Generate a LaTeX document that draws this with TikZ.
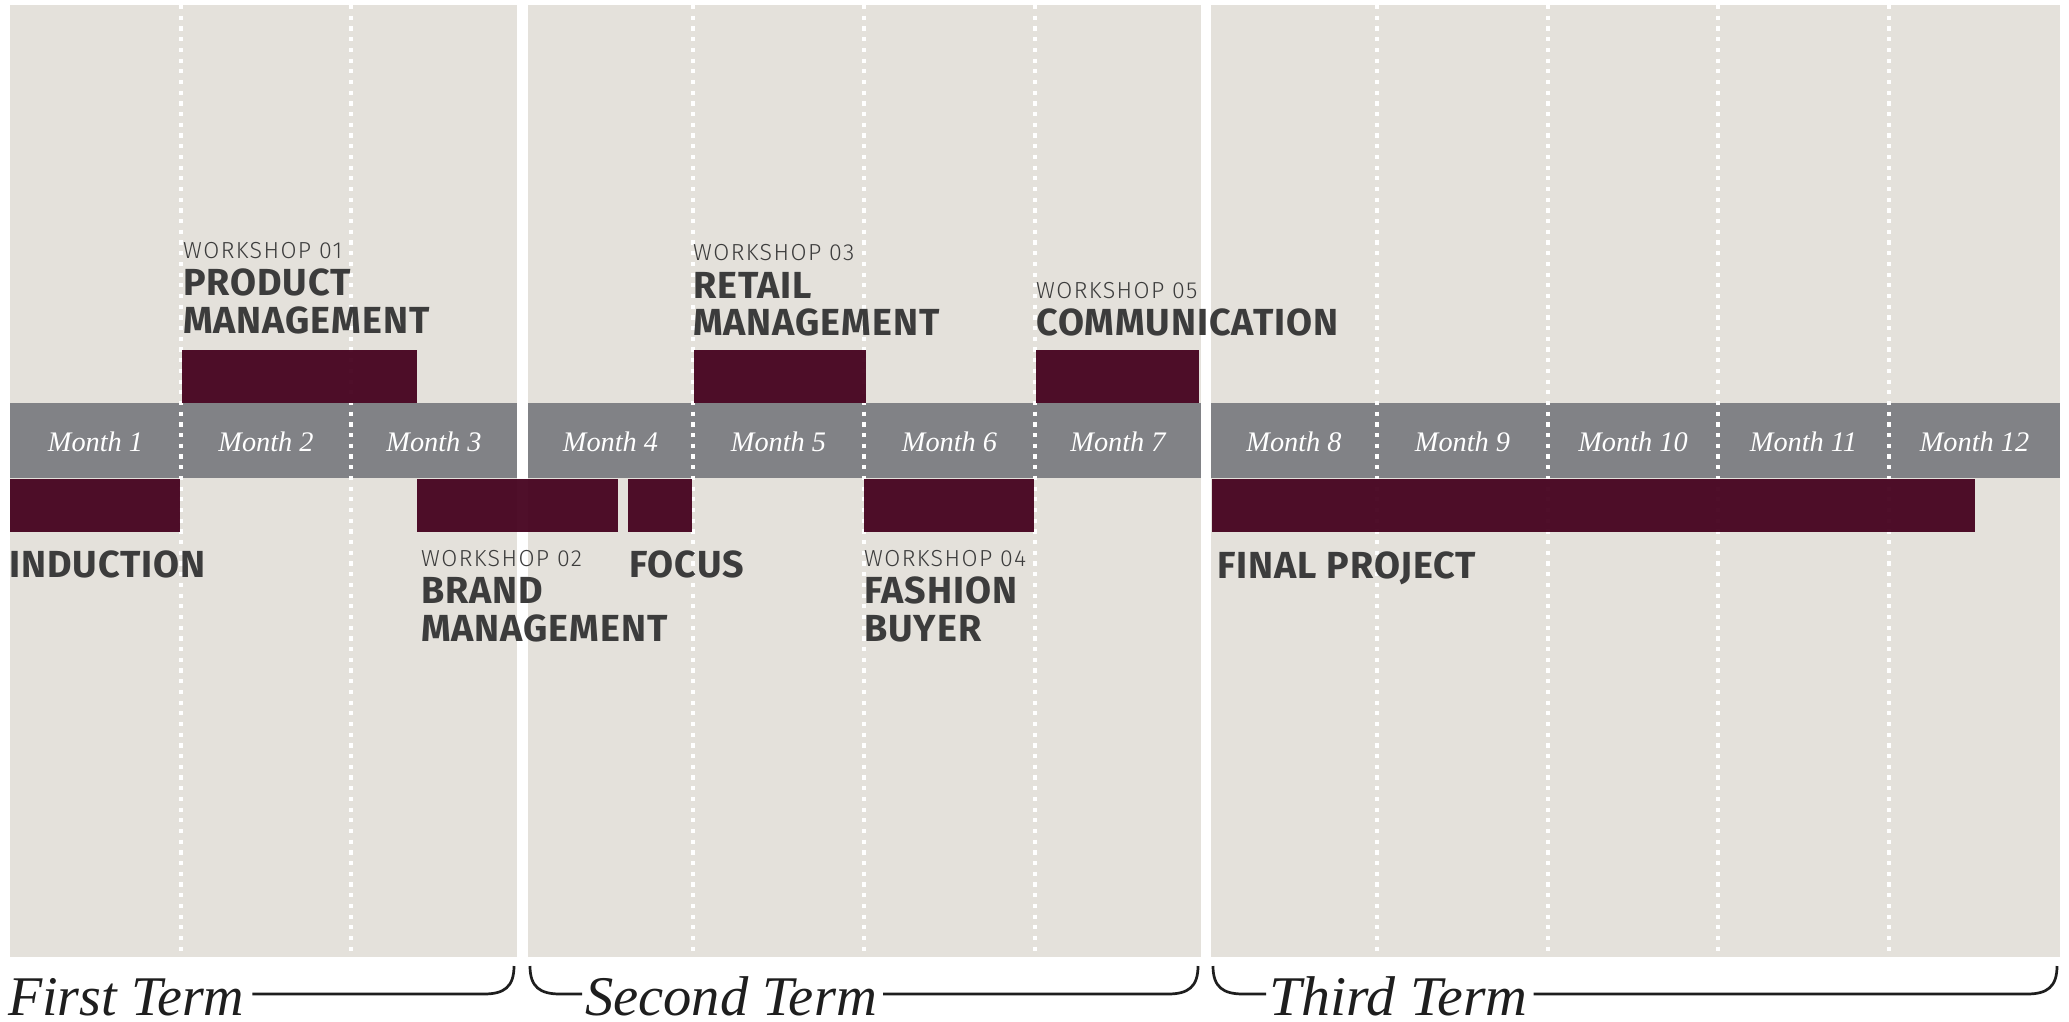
\documentclass[tikz,border=0pt]{standalone}
\usepackage{fontspec}
\usepackage{graphicx}
\newfontfamily\dinbold{Fira Sans}[UprightFont=* Bold,LetterSpace=2.5]
\newfontfamily\dinlight{Fira Sans Light}[LetterSpace=6]
\newfontfamily\serifit{Liberation Serif}
\definecolor{beige}{HTML}{E4E1DB}
\definecolor{bandgray}{HTML}{818286}
\definecolor{maroon}{HTML}{44001D}
\definecolor{txt}{HTML}{3C3C3C}
\definecolor{termink}{HTML}{1E1E1E}
\begin{document}
\begin{tikzpicture}[x=1pt,y=-1pt,
  panel/.style={fill=beige,draw=none},
  band/.style={fill=bandgray,draw=none},
  sep/.style={draw=white,line width=3.6pt,dash pattern=on 4.2pt off 6.5pt},
  bar/.style={fill=maroon,fill opacity=0.94,draw=none},
  month/.style={anchor=base,inner sep=0pt,text=white,font=\serifit\itshape\fontsize{28.3}{30}\selectfont},
  wstag/.style={anchor=base west,inner sep=0pt,text=txt,font=\dinlight\fontsize{23.2}{26}\selectfont},
  wsname/.style={anchor=base west,inner sep=0pt,text=txt,font=\dinbold\fontsize{37.7}{40}\selectfont},
  term/.style={anchor=base west,inner sep=0pt,text=termink,font=\serifit\itshape\fontsize{56}{60}\selectfont},
  brace/.style={draw=termink,line width=2.7pt}
]
\useasboundingbox (0,0) rectangle (2069,1021);
\fill[white] (0,0) rectangle (2069,1021);
% panels
\fill[panel] (10,5) rectangle (517,957);
\fill[panel] (528,5) rectangle (1201,957);
\fill[panel] (1211,5) rectangle (2060,957);
% month band
\fill[band] (10,403) rectangle (517,478);
\fill[band] (528,403) rectangle (1201,478);
\fill[band] (1211,403) rectangle (2060,478);
% month separators
\foreach \x in {181,351,693,864,1035,1377,1548,1718,1889}
  \draw[sep] (\x,5) -- (\x,957);
% month labels
\node[month] (m1) at (95.5,451) {Month 1};
\node[month] (m2) at (266,451) {Month 2};
\node[month] (m3) at (434,451) {Month 3};
\node[month] (m4) at (610.5,451) {Month 4};
\node[month] (m5) at (778.5,451) {Month 5};
\node[month] (m6) at (949.5,451) {Month 6};
\node[month] (m7) at (1118,451) {Month 7};
\node[month] (m8) at (1294,451) {Month 8};
\node[month] (m9) at (1462.5,451) {Month 9};
\node[month] (m10) at (1633,451) {Month 10};
\node[month] (m11) at (1803.5,451) {Month 11};
\node[month] (m12) at (1974.5,451) {Month 12};
% bars above
\fill[bar] (182,350) rectangle (417,403);
\fill[bar] (694,350) rectangle (866,403);
\fill[bar] (1036,350) rectangle (1199,403);
% bars below
\fill[bar] (10,479) rectangle (180,532);
\fill[bar] (417,479) rectangle (618,532);
\fill[bar] (628,479) rectangle (692,532);
\fill[bar] (864,479) rectangle (1034,532);
\fill[bar] (1212,479) rectangle (1975,532);
% labels above
\node[wstag] (w1t) at (183,258) {WORKSHOP 01};
\node[wsname] (w1a) at (183,295) {PRODUCT};
\node[wsname] (w1b) at (183,333) {MANAGEMENT};
\node[wstag] (w3t) at (693,260) {WORKSHOP 03};
\node[wsname] (w3a) at (693,298) {RETAIL};
\node[wsname] (w3b) at (693,335) {MANAGEMENT};
\node[wstag] (w5t) at (1036,298) {WORKSHOP 05};
\node[wsname] (w5a) at (1036,335) {COMMUNICATION};
% labels below
\node[wsname] (ind) at (9,577.5) {INDUCTION};
\node[wstag] (w2t) at (421,566) {WORKSHOP 02};
\node[wsname] (w2a) at (421,603) {BRAND};
\node[wsname] (w2b) at (421,641) {MANAGEMENT};
\node[wsname] (foc) at (629,577.5) {FOCUS};
\node[wstag] (w4t) at (864,566) {WORKSHOP 04};
\node[wsname] (w4a) at (864,603) {FASHION};
\node[wsname] (w4b) at (864,641) {BUYER};
\node[wsname] (fin) at (1217,578) {FINAL PROJECT};
% terms
\node[term] (t1) at (8,1015) {First Term};
\node[term] (t2) at (585,1015) {\scalebox{1.01}[1]{Second Term}};
\node[term] (t3) at (1269,1015) {\scalebox{1.035}[1]{Third Term}};
\coordinate (b1e) at (514,966);
\coordinate (b2s) at (530,966);
\coordinate (b2e) at (1198,966);
\coordinate (b3s) at (1213,966);
\coordinate (b3e) at (2057,966);
\draw[brace] ([xshift=8pt]t1.east |- 0,994) -- (484,994) .. controls (504,994) and (514,987) .. (b1e);
\draw[brace] (b2s) .. controls (530,987) and (540,994) .. (560,994) -- ([xshift=-3pt]t2.west |- 0,994);
\draw[brace] ([xshift=6pt]t2.east |- 0,994) -- (1168,994) .. controls (1188,994) and (1198,987) .. (b2e);
\draw[brace] (b3s) .. controls (1213,987) and (1223,994) .. (1243,994) -- ([xshift=-3pt]t3.west |- 0,994);
\draw[brace] ([xshift=6pt]t3.east |- 0,994) -- (2027,994) .. controls (2047,994) and (2057,987) .. (b3e);
\end{tikzpicture}
\end{document}
